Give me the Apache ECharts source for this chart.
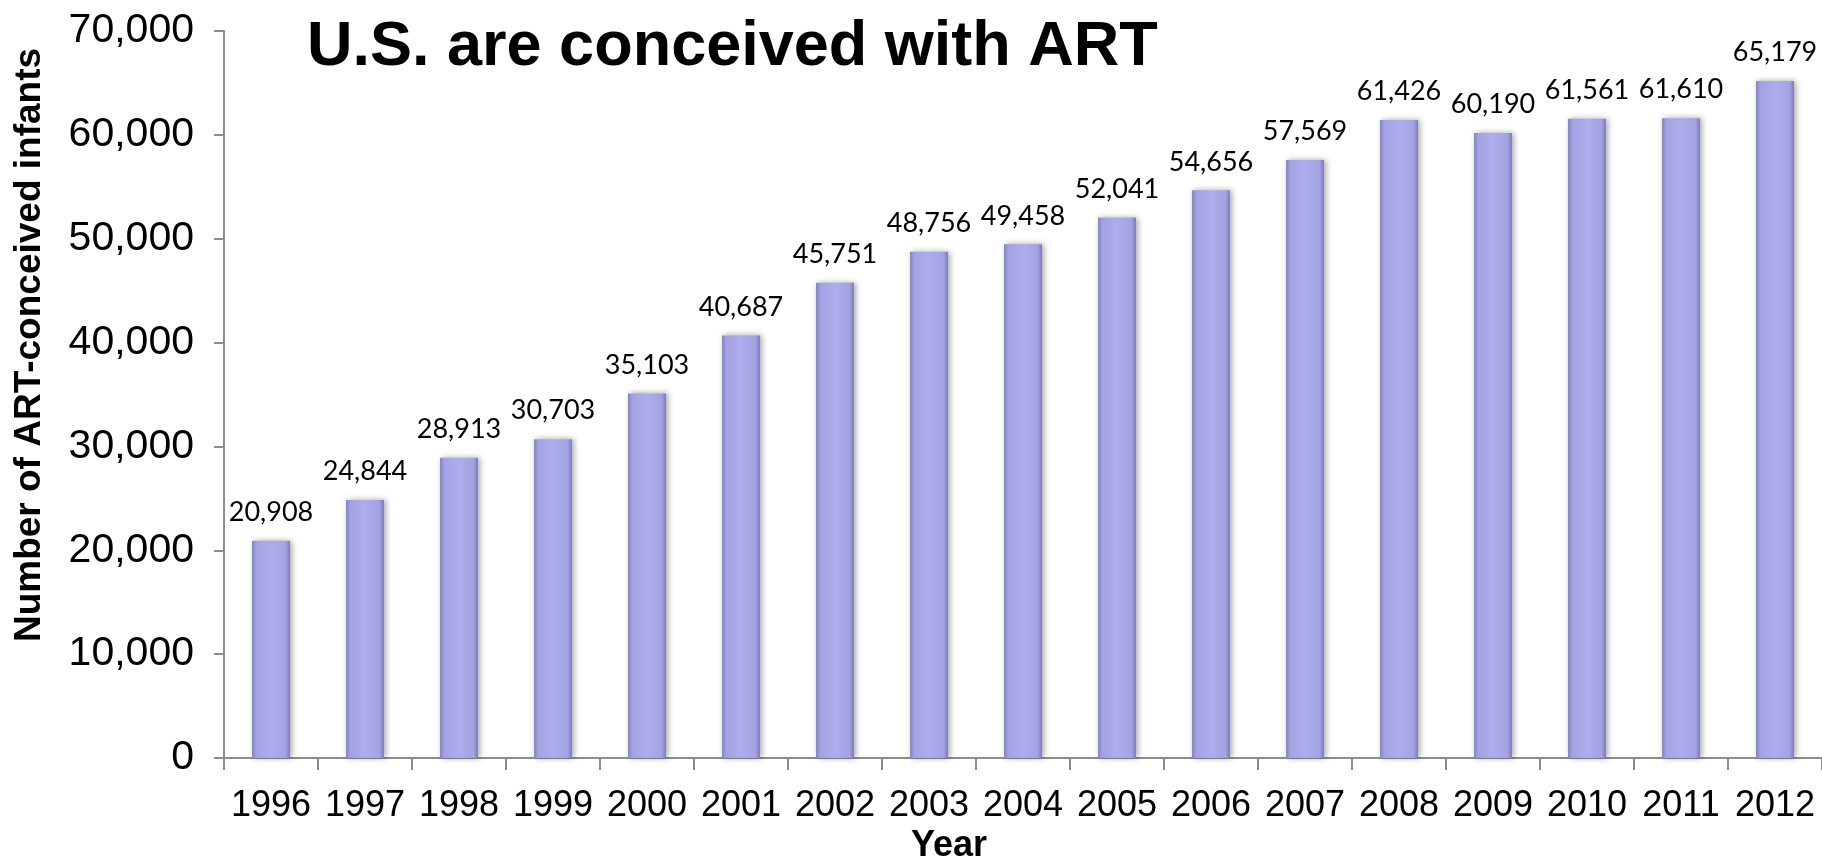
<!DOCTYPE html>
<html><head><meta charset="utf-8">
<script src="https://cdn.jsdelivr.net/npm/echarts@6/dist/echarts.min.js"></script>
<style>html,body{margin:0;padding:0;background:#fff}#c{width:1822px;height:858px}</style>
</head><body><div id="c"></div>
<script>
const years = ['1996','1997','1998','1999','2000','2001','2002','2003','2004','2005','2006','2007','2008','2009','2010','2011','2012'];
const infants = [20908,24844,28913,30703,35103,40687,45751,48756,49458,52041,54656,57569,61426,60190,61561,61610,65179];
const titleText = 'U.S. are conceived with ART';
const yName = 'Number of ART-conceived infants';
const xName = 'Year';

const sans = '"Liberation Sans",Arial,sans-serif';
const chart = echarts.init(document.getElementById('c'), null, {renderer:'canvas'});
chart.setOption({
  animation:false,
  backgroundColor:'#fff',
  title:{text:titleText,left:302,top:11,textStyle:{fontFamily:sans,fontWeight:'bold',fontSize:63,color:'#000'}},
  grid:{left:224,right:0,top:31,bottom:100,containLabel:false},
  xAxis:{type:'category',data:years,
    axisLine:{lineStyle:{color:'#8c8c8c',width:2}},
    axisTick:{show:true,length:12,lineStyle:{color:'#8c8c8c',width:2}},
    axisLabel:{interval:0,fontFamily:sans,fontSize:36,color:'#000',margin:30}},
  yAxis:{type:'value',min:0,max:70000,interval:10000,
    axisLine:{show:true,lineStyle:{color:'#8c8c8c',width:2}},
    axisTick:{show:true,length:10,lineStyle:{color:'#8c8c8c',width:2}},
    splitLine:{show:false},
    axisLabel:{fontFamily:sans,fontSize:41,color:'#000',margin:30,
      formatter:v=>v.toLocaleString('en-US')}},
  graphic:[
    {type:'text',x:30,y:345,rotation:Math.PI/2,style:{text:yName,font:'bold 37px "Liberation Sans",Arial,sans-serif',fill:'#000',textAlign:'center',textVerticalAlign:'middle'}},
    {type:'text',x:949,y:846,style:{text:xName,font:'bold 36px "Liberation Sans",Arial,sans-serif',fill:'#000',textAlign:'center',textVerticalAlign:'middle'}}
  ],
  series:[{type:'bar',data:infants,barWidth:38,
    itemStyle:{
      color:new echarts.graphic.LinearGradient(0,0,1,0,[
        {offset:0,color:'#8585c2'},{offset:0.12,color:'#a3a3e3'},{offset:0.5,color:'#adadee'},
        {offset:0.88,color:'#a3a3e3'},{offset:1,color:'#7c7cb6'}]),
      shadowBlur:6,shadowColor:'rgba(0,0,0,0.35)',shadowOffsetX:2,shadowOffsetY:0},
    label:{show:true,position:'top',distance:15,fontFamily:'Lato,"Open Sans",sans-serif',fontSize:27,color:'#000',
      formatter:p=>p.value.toLocaleString('en-US')}
  }]
});
</script></body></html>
